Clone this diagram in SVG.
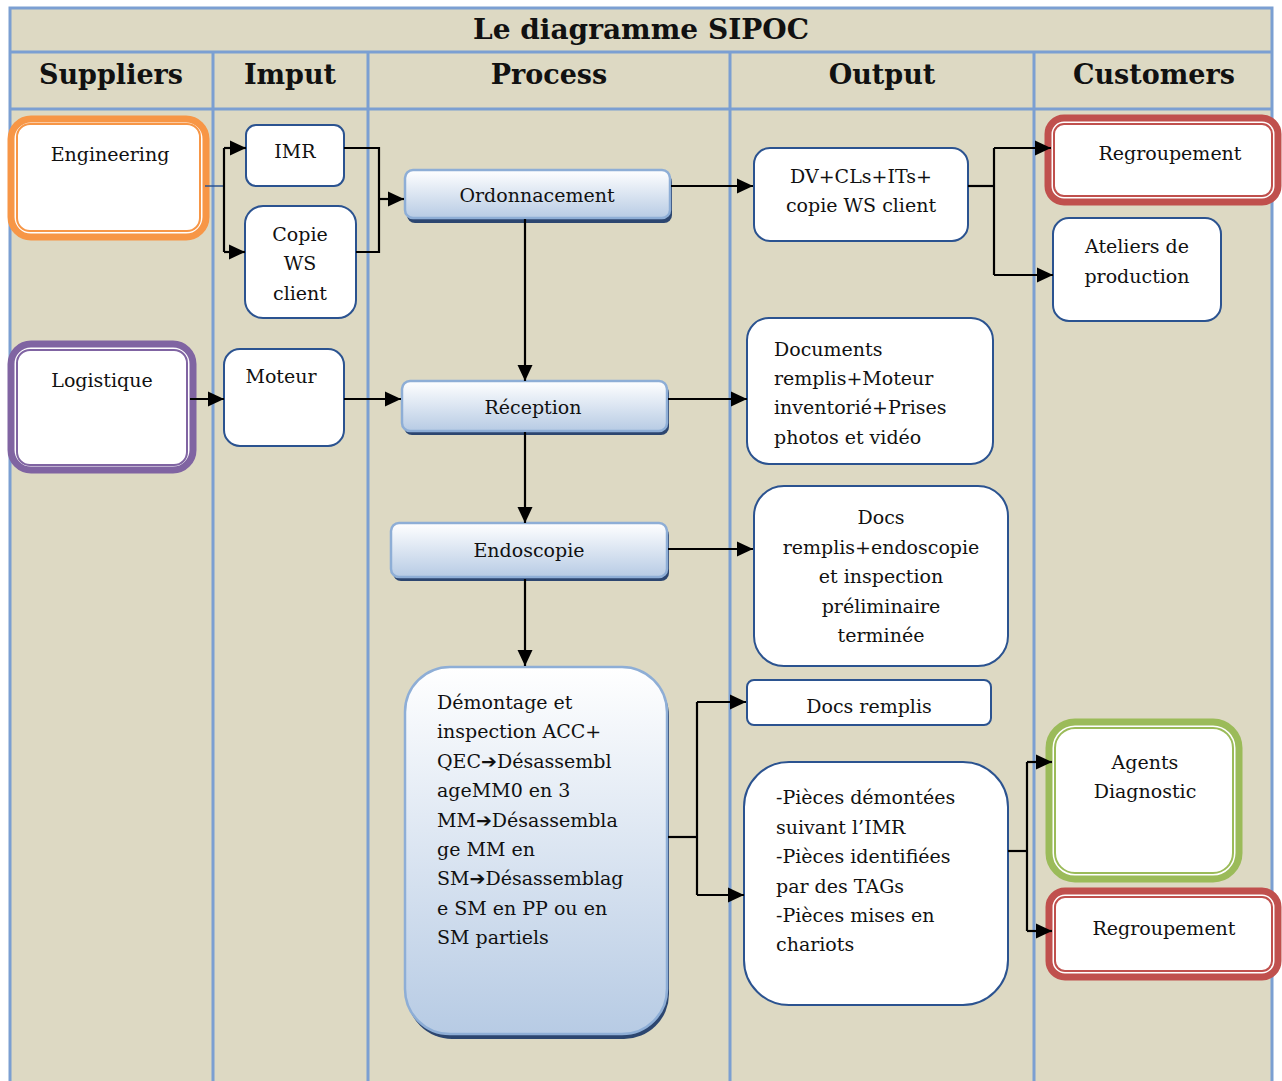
<svg xmlns="http://www.w3.org/2000/svg" width="1282" height="1081" viewBox="0 0 1282 1081">
  <defs>
    <linearGradient id="procFill" x1="0" y1="0" x2="0" y2="1">
      <stop offset="0" stop-color="#ffffff"/>
      <stop offset="1" stop-color="#b7cbe4"/>
    </linearGradient>
    <marker id="arrow" viewBox="0 0 16 16" refX="16" refY="8" markerWidth="16" markerHeight="16" markerUnits="userSpaceOnUse" orient="auto">
      <path d="M0,0.5 L16,8 L0,15.5 Z" fill="#000"/>
    </marker>
    <style>
      .grid { stroke: #7b9fd2; stroke-width: 3; fill: none; }
      .title { font-family: "DejaVu Serif", "Liberation Serif", serif; font-weight: bold; font-size: 28px; fill: #111; text-anchor: middle; }
      .head { font-family: "DejaVu Serif", "Liberation Serif", serif; font-weight: bold; font-size: 27px; fill: #111; text-anchor: middle; }
      .lbl { font-family: "DejaVu Serif", "Liberation Serif", serif; font-size: 19px; fill: #111; }
      .c { text-anchor: middle; }
      .sym { font-family: "DejaVu Sans", sans-serif; font-weight: bold; }
      .box { fill: #fff; stroke: #2b5390; stroke-width: 2; }
      .proc { fill: url(#procFill); stroke: #8eaed6; stroke-width: 2.5; }
      .shadow { fill: #2c4670; }
      .outerRing { fill: #fff; stroke-width: 7; }
      .innerRing { fill: none; stroke-width: 2; }
      .wire { fill: none; stroke: #000; stroke-width: 2.2; }
      .arr { fill: none; stroke: #000; stroke-width: 2.2; marker-end: url(#arrow); }
    </style>
  </defs>

  <!-- SIPOC table background and grid -->
  <rect x="10" y="8" width="1262" height="1080" fill="#ddd9c3"/>
  <g id="grid" class="grid">
    <rect x="10" y="8" width="1262" height="1080"/>
    <line x1="10" y1="52" x2="1272" y2="52"/>
    <line x1="10" y1="109" x2="1272" y2="109"/>
    <line x1="213" y1="52" x2="213" y2="1081"/>
    <line x1="368" y1="52" x2="368" y2="1081"/>
    <line x1="730" y1="52" x2="730" y2="1081"/>
    <line x1="1034" y1="52" x2="1034" y2="1081"/>
  </g>

  <g id="headers">
    <text class="title" x="641" y="39">Le diagramme SIPOC</text>
    <text class="head" x="111" y="84">Suppliers</text>
    <text class="head" x="290" y="84">Imput</text>
    <text class="head" x="549" y="84">Process</text>
    <text class="head" x="882" y="84">Output</text>
    <text class="head" x="1154" y="84">Customers</text>
  </g>

  <!-- suppliers -->
  <g id="engineering">
    <rect class="outerRing" x="11" y="119" width="195" height="118" rx="20" stroke="#f79646"/>
    <rect class="innerRing" x="17" y="124" width="183" height="107" rx="13" stroke="#f79646"/>
    <text class="lbl c" x="110" y="161">Engineering</text>
  </g>
  <g id="logistique">
    <rect class="outerRing" x="11" y="344" width="182" height="126" rx="20" stroke="#8064a2"/>
    <rect class="innerRing" x="17" y="350" width="170" height="115" rx="13" stroke="#8064a2"/>
    <text class="lbl c" x="102" y="387">Logistique</text>
  </g>

  <!-- inputs -->
  <g id="imr">
    <rect class="box" x="246" y="125" width="98" height="61" rx="10"/>
    <text class="lbl c" x="295" y="158">IMR</text>
  </g>
  <g id="copie-ws">
    <rect class="box" x="245" y="206" width="111" height="112" rx="18"/>
    <text class="lbl c" x="300" y="241">Copie</text>
    <text class="lbl c" x="300" y="270">WS</text>
    <text class="lbl c" x="300" y="300">client</text>
  </g>
  <g id="moteur">
    <rect class="box" x="224" y="349" width="120" height="97" rx="16"/>
    <text class="lbl c" x="281" y="383">Moteur</text>
  </g>

  <!-- process steps -->
  <g id="ordonnacement">
    <rect class="shadow" x="407" y="174" width="265" height="49" rx="8"/>
    <rect class="proc" x="405" y="170" width="265" height="48" rx="8"/>
    <text class="lbl c" x="537" y="202">Ordonnacement</text>
  </g>
  <g id="reception">
    <rect class="shadow" x="404" y="385" width="265" height="50" rx="8"/>
    <rect class="proc" x="402" y="381" width="265" height="50" rx="8"/>
    <text class="lbl c" x="533" y="414">Réception</text>
  </g>
  <g id="endoscopie">
    <rect class="shadow" x="393" y="527" width="276" height="54" rx="8"/>
    <rect class="proc" x="391" y="523" width="276" height="54" rx="8"/>
    <text class="lbl c" x="529" y="557">Endoscopie</text>
  </g>
  <g id="demontage">
    <rect class="shadow" x="407" y="671" width="262" height="368" rx="45"/>
    <rect class="proc" x="405" y="667" width="262" height="367" rx="45"/>
    <text class="lbl" x="437" y="709">Démontage et</text>
    <text class="lbl" x="437" y="738">inspection ACC+</text>
    <text class="lbl" x="437" y="768">QEC<tspan class="sym">➔</tspan>Désassembl</text>
    <text class="lbl" x="437" y="797">ageMM0 en 3</text>
    <text class="lbl" x="437" y="827">MM<tspan class="sym">➔</tspan>Désassembla</text>
    <text class="lbl" x="437" y="856">ge MM en</text>
    <text class="lbl" x="437" y="885">SM<tspan class="sym">➔</tspan>Désassemblag</text>
    <text class="lbl" x="437" y="915">e SM en PP ou en</text>
    <text class="lbl" x="437" y="944">SM partiels</text>
  </g>

  <!-- outputs -->
  <g id="out-dv">
    <rect class="box" x="754" y="148" width="214" height="93" rx="16"/>
    <text class="lbl c" x="861" y="183">DV+CLs+ITs+</text>
    <text class="lbl c" x="861" y="212">copie WS client</text>
  </g>
  <g id="out-documents">
    <rect class="box" x="747" y="318" width="246" height="146" rx="22"/>
    <text class="lbl" x="774" y="356">Documents</text>
    <text class="lbl" x="774" y="385">remplis+Moteur</text>
    <text class="lbl" x="774" y="414">inventorié+Prises</text>
    <text class="lbl" x="774" y="444">photos et vidéo</text>
  </g>
  <g id="out-docs-endoscopie">
    <rect class="box" x="754" y="486" width="254" height="180" rx="30"/>
    <text class="lbl c" x="881" y="524">Docs</text>
    <text class="lbl c" x="881" y="554">remplis+endoscopie</text>
    <text class="lbl c" x="881" y="583">et inspection</text>
    <text class="lbl c" x="881" y="613">préliminaire</text>
    <text class="lbl c" x="881" y="642">terminée</text>
  </g>
  <g id="out-docs-remplis">
    <rect class="box" x="747" y="680" width="244" height="45" rx="7"/>
    <text class="lbl c" x="869" y="713">Docs remplis</text>
  </g>
  <g id="out-pieces">
    <rect class="box" x="744" y="762" width="264" height="243" rx="45"/>
    <text class="lbl" x="776" y="804">-Pièces démontées</text>
    <text class="lbl" x="776" y="834">suivant l’IMR</text>
    <text class="lbl" x="776" y="863">-Pièces identifiées</text>
    <text class="lbl" x="776" y="893">par des TAGs</text>
    <text class="lbl" x="776" y="922">-Pièces mises en</text>
    <text class="lbl" x="776" y="951">chariots</text>
  </g>

  <!-- customers -->
  <g id="regroupement-1">
    <rect class="outerRing" x="1048" y="118" width="230" height="84" rx="16" stroke="#c0504d"/>
    <rect class="innerRing" x="1054" y="124" width="218" height="72" rx="10" stroke="#c0504d"/>
    <text class="lbl c" x="1170" y="160">Regroupement</text>
  </g>
  <g id="ateliers">
    <rect class="box" x="1053" y="218" width="168" height="103" rx="16"/>
    <text class="lbl c" x="1137" y="253">Ateliers de</text>
    <text class="lbl c" x="1137" y="283">production</text>
  </g>
  <g id="agents-diagnostic">
    <rect class="outerRing" x="1049" y="722" width="190" height="157" rx="26" stroke="#9bbb59"/>
    <rect class="innerRing" x="1055" y="728" width="178" height="145" rx="20" stroke="#9bbb59"/>
    <text class="lbl c" x="1145" y="769">Agents</text>
    <text class="lbl c" x="1145" y="798">Diagnostic</text>
  </g>
  <g id="regroupement-2">
    <rect class="outerRing" x="1049" y="891" width="229" height="86" rx="16" stroke="#c0504d"/>
    <rect class="innerRing" x="1055" y="897" width="217" height="74" rx="10" stroke="#c0504d"/>
    <text class="lbl c" x="1164" y="935">Regroupement</text>
  </g>

  <!-- connectors, drawn over the node outlines -->
  <g id="connectors">
    <line x1="205" y1="186" x2="224" y2="186" stroke="#2b5390" stroke-width="1.5"/>
    <path class="wire" d="M224,148 V252"/>
    <path class="arr" d="M224,148 H246"/>
    <path class="arr" d="M224,252 H245"/>
    <path class="wire" d="M344,148 H379 V252 H356"/>
    <path class="arr" d="M379,199 H404"/>
    <path class="arr" d="M525,219 V381"/>
    <path class="arr" d="M671,186 H753"/>
    <path class="wire" d="M968,186 H994"/>
    <path class="wire" d="M994,148 V275"/>
    <path class="arr" d="M994,148 H1051"/>
    <path class="arr" d="M994,275 H1053"/>
    <path class="arr" d="M190,399 H224"/>
    <path class="arr" d="M344,399 H401"/>
    <path class="arr" d="M525,432 V523"/>
    <path class="arr" d="M668,399 H747"/>
    <path class="arr" d="M668,549 H753"/>
    <path class="arr" d="M525,579 V666"/>
    <path class="wire" d="M668,837 H697"/>
    <path class="wire" d="M697,702 V895"/>
    <path class="arr" d="M697,702 H746"/>
    <path class="arr" d="M697,895 H744"/>
    <path class="wire" d="M1008,851 H1027"/>
    <path class="wire" d="M1027,762 V931"/>
    <path class="arr" d="M1027,762 H1052"/>
    <path class="arr" d="M1027,931 H1052"/>
  </g>
</svg>
